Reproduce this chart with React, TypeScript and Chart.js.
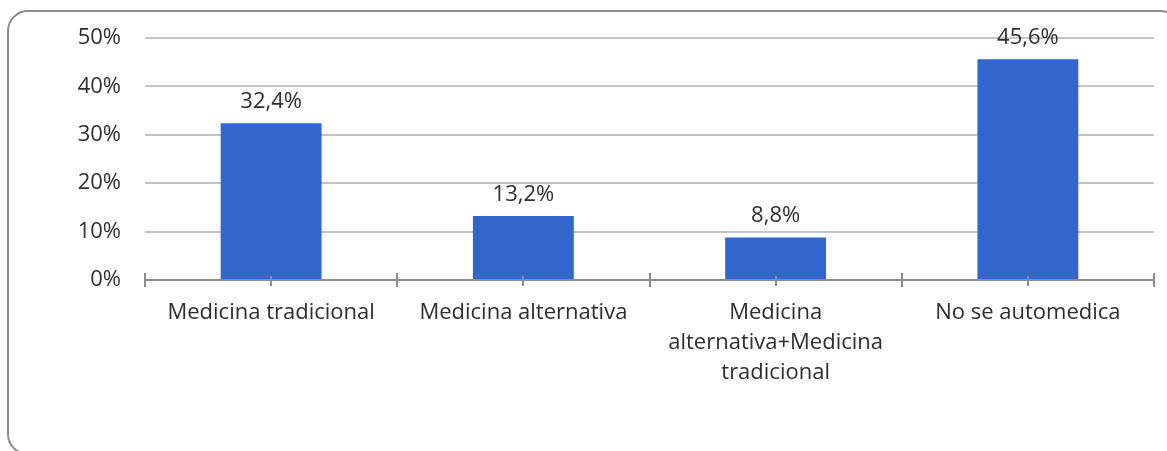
import React, { useEffect, useRef } from "react";
import { Chart, registerables } from "chart.js";

Chart.register(...registerables);

const categories: (string | string[])[] = [
  "Medicina tradicional",
  "Medicina alternativa",
  ["Medicina", "alternativa+Medicina", "tradicional"],
  "No se automedica",
];
const percentValues: number[] = [32.4, 13.2, 8.8, 45.6];
const yTickValues: number[] = [0, 10, 20, 30, 40, 50];

const FONT = "'Open Sans', sans-serif";
const TEXT = "#2e2e2e";

const framePlugin = {
  id: "frame",
  beforeDraw(chart: any) {
    const ctx = chart.ctx;
    ctx.save();
    ctx.fillStyle = "#ffffff";
    ctx.fillRect(0, 0, chart.width, chart.height);
    ctx.strokeStyle = "#8a8a8a";
    ctx.lineWidth = 2;
    const x = 8, y = 11, w = 1172, h = 443, r = 20;
    ctx.beginPath();
    ctx.moveTo(x + r, y);
    ctx.lineTo(x + w - r, y);
    ctx.arcTo(x + w, y, x + w, y + r, r);
    ctx.lineTo(x + w, y + h - r);
    ctx.arcTo(x + w, y + h, x + w - r, y + h, r);
    ctx.lineTo(x + r, y + h);
    ctx.arcTo(x, y + h, x, y + h - r, r);
    ctx.lineTo(x, y + r);
    ctx.arcTo(x, y, x + r, y, r);
    ctx.closePath();
    ctx.stroke();
    ctx.restore();
  },
};

const axisPlugin = {
  id: "axisTicks",
  afterDatasetsDraw(chart: any) {
    const ctx = chart.ctx;
    const xs = chart.scales.x;
    const area = chart.chartArea;
    const yb = chart.scales.y.getPixelForValue(0);
    ctx.save();
    ctx.strokeStyle = "#8c8c8c";
    ctx.lineWidth = 2;
    ctx.beginPath();
    ctx.moveTo(area.left, yb);
    ctx.lineTo(area.right, yb);
    const n = categories.length;
    const step = (area.right - area.left) / n;
    for (let i = 0; i <= n; i++) {
      const bx = Math.round(area.left + i * step);
      ctx.moveTo(bx, yb - 7);
      ctx.lineTo(bx, yb + 7);
    }
    for (let i = 0; i < n; i++) {
      const cx = Math.round(xs.getPixelForValue(i));
      ctx.moveTo(cx, yb - 4);
      ctx.lineTo(cx, yb + 6);
    }
    ctx.stroke();

    // data labels
    const meta = chart.getDatasetMeta(0);
    ctx.fillStyle = TEXT;
    ctx.font = `22px ${FONT}`;
    ctx.textAlign = "center";
    ctx.textBaseline = "alphabetic";
    meta.data.forEach((bar: any, i: number) => {
      const label = percentValues[i].toFixed(1).replace(".", ",") + "%";
      ctx.fillText(label, bar.x, bar.y - 15);
    });
    ctx.restore();
  },
};

export default function App() {
  const ref = useRef<HTMLCanvasElement | null>(null);
  useEffect(() => {
    const prevMargin = document.body.style.margin;
    document.body.style.margin = "0";
    const chart = new Chart(ref.current as HTMLCanvasElement, {
      type: "bar",
      data: {
        labels: categories,
        datasets: [
          {
            data: percentValues,
            backgroundColor: "#3366CC",
            borderWidth: 0,
            categoryPercentage: 1,
            barPercentage: 0.4,
          },
        ],
      },
      options: {
        animation: false,
        responsive: false,
        maintainAspectRatio: false,
        layout: { padding: { left: 0, right: 13, top: 38, bottom: 0 } },
        plugins: {
          legend: { display: false },
          tooltip: { enabled: false },
        },
        scales: {
          x: {
            grid: { display: false, drawTicks: false },
            border: { display: false },
            ticks: {
              color: TEXT,
              font: { family: FONT, size: 22, lineHeight: 1.36 },
              padding: 18,
              maxRotation: 0,
              autoSkip: false,
            },
            afterFit(s: any) {
              s.height = 171;
            },
          },
          y: {
            min: 0,
            max: 50,
            afterBuildTicks(s: any) {
              s.ticks = yTickValues.map((v) => ({ value: v }));
            },
            grid: { color: "#c4c4c4", lineWidth: 2, drawTicks: false },
            border: { display: false },
            ticks: {
              color: TEXT,
              font: { family: FONT, size: 22 },
              padding: 24,
              callback: (v: any) => `${v}%`,
            },
            afterFit(s: any) {
              s.width = 145;
            },
          },
        },
      },
      plugins: [framePlugin, axisPlugin],
    });
    return () => {
      chart.destroy();
      document.body.style.margin = prevMargin;
    };
  }, []);
  return (
    <div style={{ width: 1167, height: 451 }}>
      <canvas ref={ref} width={1167} height={451} style={{ display: "block" }} />
    </div>
  );
}
